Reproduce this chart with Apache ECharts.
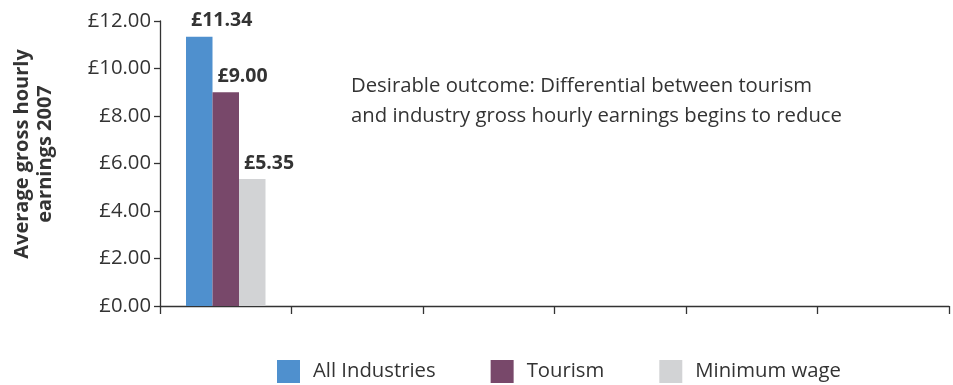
<!DOCTYPE html>
<html>
<head>
<meta charset="utf-8">
<script src="https://cdn.jsdelivr.net/npm/echarts@6/dist/echarts.min.js"></script>
<style>
  html, body { margin: 0; padding: 0; background: #fff; }
  #chart { width: 953px; height: 385px; }
</style>
</head>
<body>
<div id="chart"></div>
<script>
// Average gross hourly earnings, 2007 baseline followed by empty years
const categories = ['2007', '2008', '2009', '2010', '2011', '2012'];
const allIndustries = [11.34, null, null, null, null, null];
const tourism = [9.00, null, null, null, null, null];
const minimumWage = [5.35, null, null, null, null, null];
const yTicks = { min: 0, max: 12, interval: 2 };

const FONT = 'Open Sans';
const TEXT = '#333333';

const chart = echarts.init(document.getElementById('chart'), null, { renderer: 'canvas' });

function barSeries(name, data, color) {
  return {
    name: name,
    type: 'bar',
    data: data,
    barWidth: 26.5,
    barGap: '0%',
    itemStyle: { color: color },
    label: {
      show: true,
      position: [5, -16],
      align: 'left',
      verticalAlign: 'middle',
      fontFamily: FONT,
      fontWeight: 'bold',
      fontSize: 19.5,
      color: TEXT,
      formatter: p => '£' + Number(p.value).toFixed(2)
    }
  };
}

chart.setOption({
  animation: false,
  textStyle: { fontFamily: FONT },
  grid: { left: 160, right: 4, top: 21, bottom: 79, outerBoundsMode: 'none' },
  legend: {
    top: 360,
    left: 277,
    padding: 0,
    itemWidth: 23,
    itemHeight: 23,
    itemGap: 55,
    icon: 'rect',
    textStyle: { fontFamily: FONT, fontSize: 20.3, color: TEXT, padding: [0, 0, 0, 8] },
    data: ['All Industries', 'Tourism', 'Minimum wage']
  },
  xAxis: {
    type: 'category',
    data: categories,
    axisLine: { lineStyle: { color: '#333', width: 1.3 } },
    axisTick: { show: true, length: 8, alignWithLabel: false, lineStyle: { color: '#333', width: 1.3 } },
    axisLabel: { show: false },
    splitLine: { show: false }
  },
  yAxis: {
    type: 'value',
    min: yTicks.min,
    max: yTicks.max,
    interval: yTicks.interval,
    axisLine: { show: true, lineStyle: { color: '#333', width: 1.3 } },
    axisTick: { show: true, length: 6, lineStyle: { color: '#333', width: 1.3 } },
    axisLabel: {
      fontFamily: FONT, fontSize: 20.3, color: TEXT, margin: 9,
      formatter: v => '£' + v.toFixed(2)
    },
    splitLine: { show: false }
  },
  graphic: [{
    type: 'text',
    x: 34,
    y: 154,
    rotation: Math.PI / 2,
    style: {
      text: 'Average gross hourly\nearnings 2007',
      align: 'center',
      verticalAlign: 'middle',
      fontFamily: FONT,
      fontWeight: 'bold',
      fontSize: 20,
      lineHeight: 23,
      fill: TEXT
    }
  }, {
    type: 'text',
    left: 351,
    top: 71,
    style: {
      text: 'Desirable outcome: Differential between tourism\nand industry gross hourly earnings begins to reduce',
      fontFamily: FONT,
      fontSize: 20.3,
      lineHeight: 30,
      fill: TEXT
    }
  }],
  series: [
    barSeries('All Industries', allIndustries, '#4f90ce'),
    barSeries('Tourism', tourism, '#78486a'),
    barSeries('Minimum wage', minimumWage, '#d2d3d5')
  ]
});
</script>
</body>
</html>
